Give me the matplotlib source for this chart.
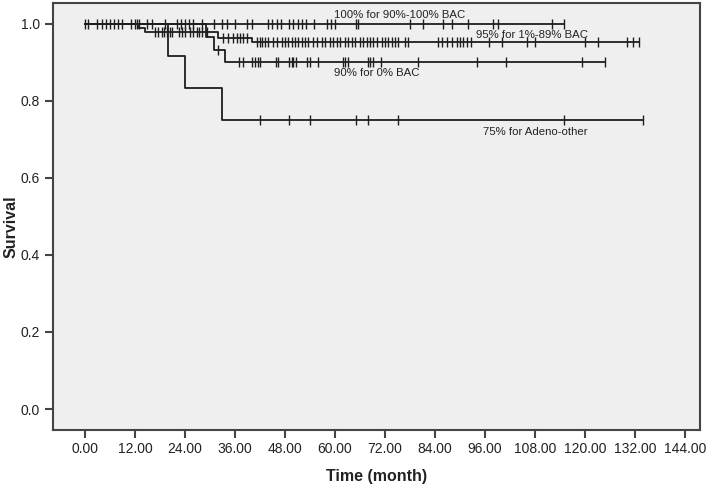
import numpy as np
import matplotlib
matplotlib.use("Agg")
import matplotlib.pyplot as plt

plt.rcParams['font.family'] = ['Liberation Sans', 'DejaVu Sans']

# ---- data ----
x_ticks = [0, 12, 24, 36, 48, 60, 72, 84, 96, 108, 120, 132, 144]
y_ticks = [0.0, 0.2, 0.4, 0.6, 0.8, 1.0]

# Group: 90%-100% BAC
a_event_times = []
a_levels = []
a_end = 115
a_censor = [0, 0.8, 3, 4, 5, 6, 7, 8, 9, 11, 12, 12.5, 13, 15, 16, 19.2, 22, 23, 24, 25,
            26, 28, 31, 33, 34, 36, 39, 40, 44, 45, 46, 47, 49, 50, 51, 52, 53, 55, 58,
            59, 60, 65, 65.6, 78, 81, 86, 88, 92, 98, 99, 112, 115]

# Group: 1%-89% BAC
b_event_times = [12.7, 14.5, 32, 40.2]
b_levels = [0.990, 0.978, 0.963, 0.952]
b_end = 133
b_censor = [16.8, 17.6, 18.4, 19, 19.6, 20.4, 20.8, 22.6, 23.2, 24, 25.2, 26, 26.8, 27.4,
            28.2, 29.2, 33.2, 34.4, 35.6, 36.4, 37.2, 38, 38.8, 41.2, 42, 42.4, 43.2, 44,
            45.2, 46, 47.2, 48, 48.8, 49.6, 50.4, 51.2, 52, 52.8, 53.6, 54.8, 55.6, 56.8,
            57.6, 58.8, 59.6, 60.4, 61.2, 62.4, 63.2, 64, 64.8, 66, 66.8, 67.6, 68.4, 69.2,
            70, 71.2, 72, 72.8, 73.6, 74.4, 75.2, 76.8, 77.6, 84.8, 85.6, 86.8, 88, 89.2,
            90, 90.8, 91.6, 92.6, 97, 100, 106, 108, 120, 123, 130, 131.6, 133]

# Group: 0% BAC
c_event_times = [29, 31, 33.6]
c_levels = [0.967, 0.933, 0.900]
c_end = 124.8
c_censor = [32, 37, 38, 40, 40.8, 41.6, 42, 45.8, 46.4, 49, 49.6, 50, 50.6, 53.2, 54, 56,
            62, 62.4, 63, 67.8, 68.4, 69.2, 71, 80, 94, 101, 119.2, 124.8]

# Group: Adeno-other
d_event_times = [20, 24, 33]
d_levels = [0.917, 0.833, 0.750]
d_end = 134
d_censor = [42, 49, 54, 65, 68, 75, 115, 134]

labels = ["100% for 90%-100% BAC", "95% for 1%-89% BAC", "90% for 0% BAC", "75% for Adeno-other"]

groups = [
    (a_event_times, a_levels, a_end, a_censor),
    (b_event_times, b_levels, b_end, b_censor),
    (c_event_times, c_levels, c_end, c_censor),
    (d_event_times, d_levels, d_end, d_censor),
]

# ---- figure ----
fig = plt.figure(figsize=(7.06, 4.84), dpi=100)
ax = fig.add_axes([0.0746, 0.1116, 0.9176, 0.8816])
ax.set_facecolor('#efefef')

line_col = '#1e1e1e'

def level_at(t, times, levels):
    val = 1.0
    for tt, lv in zip(times, levels):
        if t >= tt:
            val = lv
    return val

for times, levels, end, censor in groups:
    xs = [0] + list(times) + [end]
    ys = [1.0] + list(levels) + [levels[-1] if levels else 1.0]
    ax.step(xs, ys, where='post', color=line_col, lw=1.3, zorder=3)
    cy = [level_at(t, times, levels) for t in censor]
    ax.plot(censor, cy, ls='none', marker='|', ms=7, mew=1.0, color=line_col, zorder=4)

label_pos = [(75.6, 1.023), (107.3, 0.971), (70.1, 0.873), (108.0, 0.719)]
for txt, (lx, ly) in zip(labels, label_pos):
    ax.text(lx, ly, txt, ha='center', va='center', fontsize=8.2, color='#222222', zorder=5)

ax.set_xlim(-7.75, 147.7)
ax.set_ylim(-0.0545, 1.0537)
ax.set_xticks(x_ticks)
ax.set_xticklabels([f"{v:.2f}" for v in x_ticks])
ax.set_yticks(y_ticks)
ax.set_yticklabels([f"{v:.1f}" for v in y_ticks])

for sp in ax.spines.values():
    sp.set_color('#444444')
    sp.set_linewidth(1.5)
ax.tick_params(axis='both', direction='out', length=6, width=1.5, color='#444444',
               labelsize=10, labelcolor='#222222', pad=3)

ax.set_xlabel("Time (month)", fontsize=11.5, fontweight='bold', color='#222222', labelpad=9)
fig.text(11 / 706, 1 - 227 / 484, "Survival", rotation=90, ha='center', va='center',
         fontsize=11.5, fontweight='bold', color='#222222')

fig.savefig("out.png", dpi=100, facecolor='white')
